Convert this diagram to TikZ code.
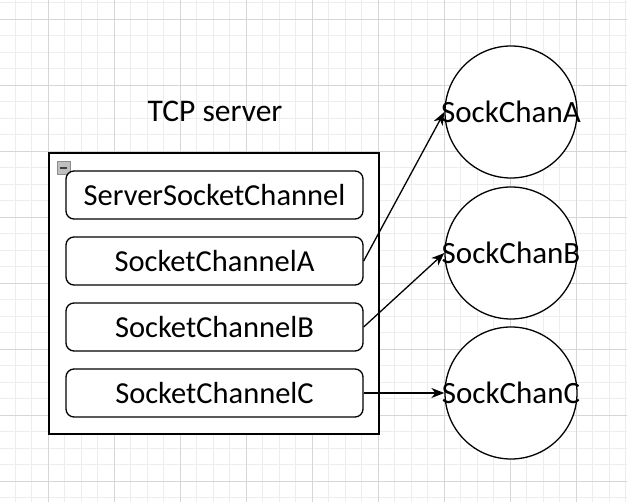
\documentclass[tikz,border=0pt]{standalone}
\usepackage{fontspec}
\setmainfont{Carlito}
\usetikzlibrary{arrows.meta}
\begin{document}
\begin{tikzpicture}[x=1pt,y=-1pt,
  minorgrid/.style={draw=black!7,line width=0.8pt},
  majorgrid/.style={draw=black!16,line width=0.8pt},
  chanbox/.style={draw,line width=1.3pt,rounded corners=8pt,minimum width=297pt,minimum height=48pt,inner sep=0pt,font=\fontsize{30.5}{34}\selectfont},
  peer/.style={draw,circle,line width=1.3pt,minimum size=132pt,inner sep=0pt,fill=white},
  peertext/.style={font=\fontsize{31}{34}\selectfont,inner sep=0pt},
  conn/.style={line width=1.3pt,-{Stealth[length=13pt,width=10pt,inset=4pt]}}]
\useasboundingbox (0,0) rectangle (627,502);
\fill[white] (0,0) rectangle (627,502);
\foreach \i in {0,...,40} {
  \draw[minorgrid] ({-18+\i*16.5},0) -- ({-18+\i*16.5},502);
  \draw[minorgrid] (0,{-47+\i*16.5}) -- (627,{-47+\i*16.5});
}
\foreach \i in {0,...,10} {
  \draw[majorgrid] ({-18+\i*66},0) -- ({-18+\i*66},502);
  \draw[majorgrid] (0,{-47+\i*66}) -- (627,{-47+\i*66});
}
% container
\node[draw,line width=1.3pt,fill=white,minimum width=330pt,minimum height=281pt,inner sep=0pt] (server) at (214,293.5) {};
\node[font=\fontsize{31.5}{34}\selectfont] (title) at (215,111) {TCP server};
\node[draw=black!45,fill=black!25,line width=0.8pt,minimum size=13pt,inner sep=0pt] (collapse) at (63.5,168) {};
\draw[line width=1.3pt,black!75] ([xshift=3pt]collapse.west) -- ([xshift=-3pt]collapse.east);
% channels
\node[chanbox,fill=white] (ssc) at (214.5,195) {ServerSocketChannel};
\node[chanbox] (sca) at (214.5,261) {SocketChannelA};
\node[chanbox] (scb) at (214.5,327) {SocketChannelB};
\node[chanbox] (scc) at (214.5,393) {SocketChannelC};
% peers
\node[peer] (ca) at (511,112) {};
\node[peer] (cb) at (511,253) {};
\node[peer] (cc) at (511,393) {};
\node[peertext] (ta) at (ca.center) {SockChanA};
\node[peertext] (tb) at (cb.center) {SockChanB};
\node[peertext] (tc) at (cc.center) {SockChanC};
% connectors
\draw[conn] (sca.east) -- (ca.west);
\draw[conn] (scb.east) -- (cb.west);
\draw[conn] (scc.east) -- (cc.west);
\end{tikzpicture}
\end{document}
